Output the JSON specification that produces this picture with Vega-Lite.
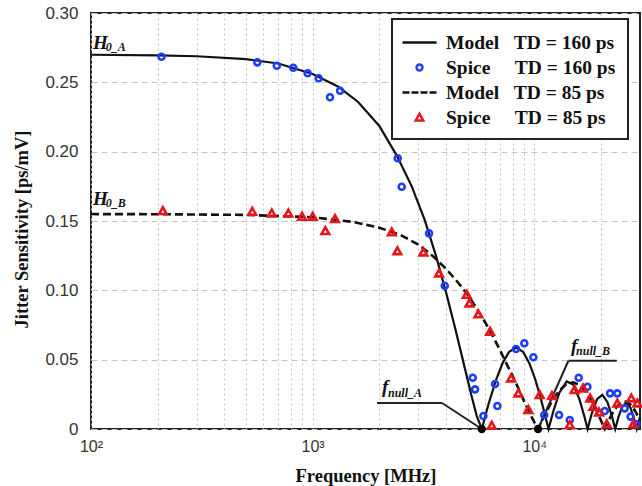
{
  "$schema": "https://vega.github.io/schema/vega-lite/v6.json",
  "width": 549,
  "height": 416,
  "autosize": {"type": "none"},
  "padding": {"left": 91, "top": 13, "right": 2, "bottom": 57},
  "background": "white",
  "config": {
    "view": {"stroke": "#222", "strokeWidth": 2},
    "axis": {"domain": false, "ticks": false, "labelFont": "Liberation Sans", "labelColor": "#333", "titleFont": "Liberation Serif", "titleFontWeight": "bold", "titleFontSize": 18.5, "titleColor": "#111"},
    "legend": {"labelFont": "Liberation Serif", "labelFontWeight": "bold", "labelFontSize": 19.5, "labelColor": "#111", "strokeColor": "#222", "strokeWidth": 2, "fillColor": "white", "padding": 12, "symbolSize": 400, "symbolStrokeWidth": 2.4, "rowPadding": 4, "labelOffset": 15, "symbolOffset": 4, "labelLimit": 400}
  },
  "datasets": {
    "model": [
      {"f":100,"v":0.2699,"s":"M160"},{"f":200,"v":0.2695,"s":"M160"},{"f":300,"v":0.2688,"s":"M160"},{"f":500,"v":0.2667,"s":"M160"},{"f":700,"v":0.2636,"s":"M160"},{"f":1000,"v":0.2560,"s":"M160"},{"f":1300,"v":0.2470,"s":"M160"},{"f":1600,"v":0.2360,"s":"M160"},{"f":2000,"v":0.2185,"s":"M160"},{"f":2400,"v":0.1970,"s":"M160"},{"f":2800,"v":0.1750,"s":"M160"},{"f":3200,"v":0.1510,"s":"M160"},{"f":3600,"v":0.1250,"s":"M160"},{"f":4000,"v":0.0985,"s":"M160"},{"f":4400,"v":0.0725,"s":"M160"},{"f":4800,"v":0.0475,"s":"M160"},{"f":5200,"v":0.0245,"s":"M160"},{"f":5500,"v":0.0095,"s":"M160"},{"f":5800,"v":0,"s":"M160"},{"f":6200,"v":0.0173,"s":"M160"},{"f":6700,"v":0.0348,"s":"M160"},{"f":7200,"v":0.0476,"s":"M160"},{"f":7700,"v":0.0556,"s":"M160"},{"f":8300,"v":0.0587,"s":"M160"},{"f":8900,"v":0.0557,"s":"M160"},{"f":9500,"v":0.0475,"s":"M160"},{"f":10100,"v":0.0359,"s":"M160"},{"f":10700,"v":0.0221,"s":"M160"},{"f":11200,"v":0.0096,"s":"M160"},{"f":11600,"v":0,"s":"M160"},{"f":12200,"v":0.0130,"s":"M160"},{"f":13000,"v":0.0264,"s":"M160"},{"f":14000,"v":0.0343,"s":"M160"},{"f":15000,"v":0.0320,"s":"M160"},{"f":16000,"v":0.0214,"s":"M160"},{"f":16800,"v":0.0095,"s":"M160"},{"f":17400,"v":0,"s":"M160"},{"f":18200,"v":0.0115,"s":"M160"},{"f":19200,"v":0.0215,"s":"M160"},{"f":20300,"v":0.0246,"s":"M160"},{"f":21400,"v":0.0193,"s":"M160"},{"f":22400,"v":0.0093,"s":"M160"},{"f":23200,"v":0,"s":"M160"},{"f":24000,"v":0.0087,"s":"M160"},{"f":25000,"v":0.0165,"s":"M160"},{"f":26100,"v":0.0191,"s":"M160"},{"f":27200,"v":0.0152,"s":"M160"},{"f":28200,"v":0.0074,"s":"M160"},{"f":29000,"v":0,"s":"M160"},{"f":30000,"v":0.0086,"s":"M160"},
      {"f":100,"v":0.1550,"s":"M85"},{"f":200,"v":0.1549,"s":"M85"},{"f":500,"v":0.1544,"s":"M85"},{"f":1000,"v":0.1527,"s":"M85"},{"f":1500,"v":0.1495,"s":"M85"},{"f":2000,"v":0.1452,"s":"M85"},{"f":2500,"v":0.1398,"s":"M85"},{"f":3000,"v":0.1330,"s":"M85"},{"f":3500,"v":0.1245,"s":"M85"},{"f":4000,"v":0.1155,"s":"M85"},{"f":4500,"v":0.1062,"s":"M85"},{"f":5000,"v":0.0970,"s":"M85"},{"f":5500,"v":0.0870,"s":"M85"},{"f":6000,"v":0.0770,"s":"M85"},{"f":6500,"v":0.0670,"s":"M85"},{"f":7000,"v":0.0570,"s":"M85"},{"f":7500,"v":0.0470,"s":"M85"},{"f":8000,"v":0.0380,"s":"M85"},{"f":8500,"v":0.0290,"s":"M85"},{"f":9000,"v":0.0200,"s":"M85"},{"f":9500,"v":0.0120,"s":"M85"},{"f":10000,"v":0.0050,"s":"M85"},{"f":10400,"v":0,"s":"M85"},{"f":11000,"v":0.0084,"s":"M85"},{"f":12000,"v":0.0199,"s":"M85"},{"f":13000,"v":0.0279,"s":"M85"},{"f":14000,"v":0.0325,"s":"M85"},{"f":15000,"v":0.0337,"s":"M85"},{"f":16000,"v":0.0318,"s":"M85"},{"f":17000,"v":0.0275,"s":"M85"},{"f":18000,"v":0.0213,"s":"M85"},{"f":19000,"v":0.0140,"s":"M85"},{"f":20000,"v":0.0061,"s":"M85"},{"f":20800,"v":0,"s":"M85"},{"f":22000,"v":0.0083,"s":"M85"},{"f":23000,"v":0.0138,"s":"M85"},{"f":24000,"v":0.0176,"s":"M85"},{"f":25000,"v":0.0196,"s":"M85"},{"f":26000,"v":0.0197,"s":"M85"},{"f":27000,"v":0.0181,"s":"M85"},{"f":28000,"v":0.0151,"s":"M85"},{"f":29000,"v":0.0109,"s":"M85"},{"f":30000,"v":0.0061,"s":"M85"}
    ],
    "spice": [
      {"f":208,"v":0.2684,"s":"S160"},{"f":563,"v":0.2644,"s":"S160"},{"f":689,"v":0.2620,"s":"S160"},{"f":818,"v":0.2605,"s":"S160"},{"f":950,"v":0.2565,"s":"S160"},{"f":1065,"v":0.2529,"s":"S160"},{"f":1198,"v":0.2392,"s":"S160"},{"f":1330,"v":0.2439,"s":"S160"},{"f":2421,"v":0.1952,"s":"S160"},{"f":2523,"v":0.1747,"s":"S160"},{"f":3352,"v":0.1411,"s":"S160"},{"f":3945,"v":0.1033,"s":"S160"},{"f":5278,"v":0.0370,"s":"S160"},{"f":5405,"v":0.0286,"s":"S160"},{"f":5896,"v":0.0094,"s":"S160"},{"f":6655,"v":0.0324,"s":"S160"},{"f":6817,"v":0.0166,"s":"S160"},{"f":8275,"v":0.0577,"s":"S160"},{"f":9020,"v":0.0618,"s":"S160"},{"f":9910,"v":0.0517,"s":"S160"},{"f":11090,"v":0.0101,"s":"S160"},{"f":12940,"v":0.0101,"s":"S160"},{"f":14460,"v":0.0065,"s":"S160"},{"f":15870,"v":0.0370,"s":"S160"},{"f":17370,"v":0.0305,"s":"S160"},{"f":20800,"v":0.0130,"s":"S160"},{"f":21980,"v":0.0257,"s":"S160"},{"f":23700,"v":0.0257,"s":"S160"},{"f":25590,"v":0.0149,"s":"S160"},{"f":27210,"v":0.0089,"s":"S160"},{"f":29000,"v":0.0034,"s":"S160"},
      {"f":211,"v":0.1572,"s":"S85"},{"f":534,"v":0.1567,"s":"S85"},{"f":654,"v":0.1555,"s":"S85"},{"f":777,"v":0.1555,"s":"S85"},{"f":896,"v":0.1531,"s":"S85"},{"f":1001,"v":0.1531,"s":"S85"},{"f":1141,"v":0.1428,"s":"S85"},{"f":1262,"v":0.1514,"s":"S85"},{"f":2275,"v":0.1420,"s":"S85"},{"f":2412,"v":0.1283,"s":"S85"},{"f":3159,"v":0.1274,"s":"S85"},{"f":3718,"v":0.1122,"s":"S85"},{"f":4960,"v":0.0968,"s":"S85"},{"f":5096,"v":0.0906,"s":"S85"},{"f":5598,"v":0.0827,"s":"S85"},{"f":6318,"v":0.0702,"s":"S85"},{"f":6430,"v":0.0024,"s":"S85"},{"f":7858,"v":0.0365,"s":"S85"},{"f":8476,"v":0.0257,"s":"S85"},{"f":9406,"v":0.0137,"s":"S85"},{"f":10580,"v":0.0245,"s":"S85"},{"f":12020,"v":0.0238,"s":"S85"},{"f":14460,"v":0.0029,"s":"S85"},{"f":15200,"v":0.0281,"s":"S85"},{"f":16600,"v":0.0293,"s":"S85"},{"f":17870,"v":0.0221,"s":"S85"},{"f":18490,"v":0.0160,"s":"S85"},{"f":19590,"v":0.0120,"s":"S85"},{"f":21230,"v":0.0034,"s":"S85"},{"f":23700,"v":0.0185,"s":"S85"},{"f":27400,"v":0.0221,"s":"S85"},{"f":28000,"v":0.0034,"s":"S85"},{"f":29170,"v":0.0185,"s":"S85"}
    ],
    "nulls": [{"f":5800,"v":0},{"f":10400,"v":0}]
  },
  "layer": [
    {
      "data": {"name": "model"},
      "transform": [{"filter": "datum.s == 'M160'"}],
      "mark": {"type": "line", "color": "#111", "strokeWidth": 2.2},
      "encoding": {
        "x": {"field": "f", "type": "quantitative", "scale": {"type": "log", "domain": [100, 30000], "nice": false},
          "axis": {"values": [100,200,300,400,500,600,700,800,900,1000,2000,3000,4000,5000,6000,7000,8000,9000,10000,20000],
            "labelExpr": "datum.value == 100 ? '10²' : datum.value == 1000 ? '10³' : datum.value == 10000 ? '10⁴' : ''",
            "labelFontSize": 16, "labelPadding": 9, "labelBaseline": "top", "labelOverlap": false, "labelFlush": false,
            "grid": true, "gridColor": "#c4c4c4", "gridDash": [2, 3], "gridWidth": 1,
            "title": "Frequency  [MHz]", "titleX": 274.5, "titleY": 46, "titleBaseline": "middle"}},
        "y": {"field": "v", "type": "quantitative", "scale": {"domain": [0, 0.3], "nice": false},
          "axis": {"values": [0,0.05,0.1,0.15,0.2,0.25,0.3],
            "labelExpr": "datum.value == 0 ? '0' : format(datum.value, '.2f')",
            "labelFontSize": 17, "labelPadding": 13,
            "grid": true, "gridColor": "#c4c4c4", "gridDash": [6, 4], "gridWidth": 1.2,
            "title": "Jitter Sensitivity  [ps/mV]", "titleX": -70, "titleY": 216, "titleBaseline": "middle", "titleAngle": -90}}
      }
    },
    {
      "data": {"name": "model"},
      "transform": [{"filter": "datum.s == 'M85'"}],
      "mark": {"type": "line", "color": "#111", "strokeWidth": 2.6, "strokeDash": [8, 4]},
      "encoding": {
        "x": {"field": "f", "type": "quantitative"},
        "y": {"field": "v", "type": "quantitative"}
      }
    },
    {
      "data": {"values": [{}]},
      "mark": {"type": "rule", "color": "#222", "strokeWidth": 2},
      "encoding": {"x": {"datum": 1953}, "x2": {"datum": 3837}, "y": {"datum": 0.01875}, "y2": {"datum": 0.01875}}
    },
    {
      "data": {"values": [{}]},
      "mark": {"type": "rule", "color": "#222", "strokeWidth": 2},
      "encoding": {"x": {"datum": 3837}, "x2": {"datum": 5800}, "y": {"datum": 0.01875}, "y2": {"datum": 0}}
    },
    {
      "data": {"values": [{}]},
      "mark": {"type": "rule", "color": "#222", "strokeWidth": 2},
      "encoding": {"x": {"datum": 14260}, "x2": {"datum": 23550}, "y": {"datum": 0.0492}, "y2": {"datum": 0.0492}}
    },
    {
      "data": {"values": [{}]},
      "mark": {"type": "rule", "color": "#222", "strokeWidth": 2},
      "encoding": {"x": {"datum": 10400}, "x2": {"datum": 14260}, "y": {"datum": 0}, "y2": {"datum": 0.0492}}
    },
    {
      "data": {"name": "spice"},
      "mark": {"type": "point", "filled": false, "strokeWidth": 2.6, "size": 400, "opacity": 1},
      "encoding": {
        "x": {"field": "f", "type": "quantitative"},
        "y": {"field": "v", "type": "quantitative"},
        "color": {"field": "s", "type": "nominal",
          "scale": {"domain": ["M160","S160","M85","S85"], "range": ["#111111","#1e3cff","#111111","#e8161b"]},
          "legend": {"title": null, "orient": "none", "legendX": 301, "legendY": 6,
            "labelExpr": "datum.label == 'M160' ? 'Model\u00a0\u00a0\u00a0TD = 160 ps' : datum.label == 'S160' ? 'Spice\u00a0\u00a0\u00a0\u00a0\u00a0TD = 160 ps' : datum.label == 'M85' ? 'Model\u00a0\u00a0\u00a0TD = 85 ps' : 'Spice\u00a0\u00a0\u00a0\u00a0\u00a0TD = 85 ps'"}},
        "shape": {"field": "s", "type": "nominal",
          "scale": {"domain": ["M160","S160","M85","S85"],
            "range": ["M-1.7,0L1.7,0", "M0.3,0A0.3,0.3,0,1,1,-0.3,0A0.3,0.3,0,1,1,0.3,0Z", "M-1.7,0L-1,0M-0.8,0L-0.1,0M0.1,0L0.8,0M1,0L1.7,0", "M0,-0.38L0.38,0.3L-0.38,0.3Z"]},
          "legend": {"title": null, "orient": "none", "legendX": 301, "legendY": 6,
            "labelExpr": "datum.label == 'M160' ? 'Model\u00a0\u00a0\u00a0TD = 160 ps' : datum.label == 'S160' ? 'Spice\u00a0\u00a0\u00a0\u00a0\u00a0TD = 160 ps' : datum.label == 'M85' ? 'Model\u00a0\u00a0\u00a0TD = 85 ps' : 'Spice\u00a0\u00a0\u00a0\u00a0\u00a0TD = 85 ps'"}}
      }
    },
    {
      "data": {"name": "nulls"},
      "mark": {"type": "point", "filled": true, "color": "#000", "size": 70, "opacity": 1},
      "encoding": {"x": {"field": "f", "type": "quantitative"}, "y": {"field": "v", "type": "quantitative"}}
    },
    {
      "data": {"values": [{}]},
      "mark": {"type": "text", "text": "H", "font": "Liberation Serif", "fontSize": 19, "fontStyle": "italic", "fontWeight": "bold", "align": "left", "baseline": "alphabetic", "color": "#111"},
      "encoding": {"x": {"datum": 102}, "y": {"datum": 0.274}}
    },
    {
      "data": {"values": [{}]},
      "mark": {"type": "text", "text": "0_A", "font": "Liberation Serif", "fontSize": 12, "fontStyle": "italic", "fontWeight": "bold", "align": "left", "baseline": "alphabetic", "color": "#111"},
      "encoding": {"x": {"datum": 116.5}, "y": {"datum": 0.2725}}
    },
    {
      "data": {"values": [{}]},
      "mark": {"type": "text", "text": "H", "font": "Liberation Serif", "fontSize": 19, "fontStyle": "italic", "fontWeight": "bold", "align": "left", "baseline": "alphabetic", "color": "#111"},
      "encoding": {"x": {"datum": 102}, "y": {"datum": 0.1615}}
    },
    {
      "data": {"values": [{}]},
      "mark": {"type": "text", "text": "0_B", "font": "Liberation Serif", "fontSize": 12, "fontStyle": "italic", "fontWeight": "bold", "align": "left", "baseline": "alphabetic", "color": "#111"},
      "encoding": {"x": {"datum": 116.5}, "y": {"datum": 0.160}}
    },
    {
      "data": {"values": [{}]},
      "mark": {"type": "text", "text": "f", "font": "Liberation Serif", "fontSize": 19, "fontStyle": "italic", "fontWeight": "bold", "align": "left", "baseline": "alphabetic", "color": "#111"},
      "encoding": {"x": {"datum": 2056}, "y": {"datum": 0.026}}
    },
    {
      "data": {"values": [{}]},
      "mark": {"type": "text", "text": "null_A", "font": "Liberation Serif", "fontSize": 12, "fontStyle": "italic", "fontWeight": "bold", "align": "left", "baseline": "alphabetic", "color": "#111"},
      "encoding": {"x": {"datum": 2188}, "y": {"datum": 0.0231}}
    },
    {
      "data": {"values": [{}]},
      "mark": {"type": "text", "text": "f", "font": "Liberation Serif", "fontSize": 19, "fontStyle": "italic", "fontWeight": "bold", "align": "left", "baseline": "alphabetic", "color": "#111"},
      "encoding": {"x": {"datum": 14660}, "y": {"datum": 0.0555}}
    },
    {
      "data": {"values": [{}]},
      "mark": {"type": "text", "text": "null_B", "font": "Liberation Serif", "fontSize": 12, "fontStyle": "italic", "fontWeight": "bold", "align": "left", "baseline": "alphabetic", "color": "#111"},
      "encoding": {"x": {"datum": 15440}, "y": {"datum": 0.0534}}
    }
  ],
  "resolve": {"scale": {"x": "shared", "y": "shared"}}
}
